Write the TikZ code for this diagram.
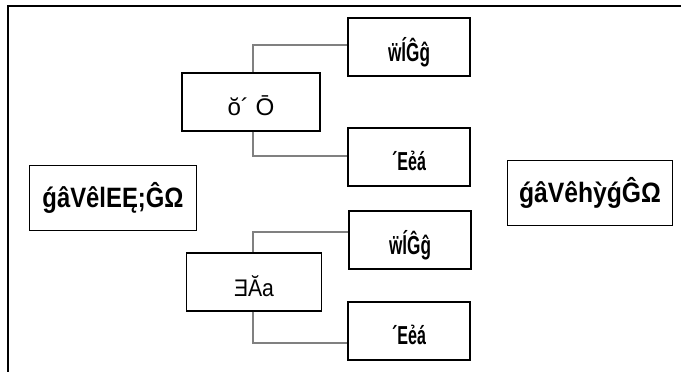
\documentclass[tikz,border=0pt]{standalone}
\usepackage{fontspec}
\setmainfont{Liberation Sans}
\usepackage{graphicx}
\newcommand{\fitw}[2]{\resizebox{#1}{\height}{#2}}
\begin{document}
\begin{tikzpicture}[x=1pt,y=-1pt,
  box/.style={draw=black, line width=1.3pt, fill=white, inner sep=0pt},
  link/.style={draw=black!50, line width=1.8pt},
  lbl/.style={font=\fontsize{24}{26}\selectfont},
  hlbl/.style={font=\fontsize{26}{28}\selectfont\bfseries},
  biglbl/.style={font=\fontsize{28}{30}\selectfont\bfseries}]
\useasboundingbox (0,0) rectangle (681,372);
% outer frame (top and left edges visible)
\draw[line width=1.2pt] (8,390) -- (8,6) -- (700,6);
% boxes
\node[box, minimum width=122pt, minimum height=58pt] (b1) at (409,47) {};
\node[hlbl] at ([yshift=-5pt]b1.center) {\fitw{42pt}{ẅĺĜĝ}};
\node[box, minimum width=138pt, minimum height=58pt] (p1) at (251,102) {};
\node[lbl] at ([yshift=-4pt]p1.center) {\fitw{47pt}{ŏ´ Ō}};
\node[box, minimum width=122pt, minimum height=58pt] (b2) at (409,157) {};
\node[hlbl] at ([yshift=-4pt]b2.center) {\fitw{34pt}{´Eẻá}};
\node[box, minimum width=167pt, minimum height=65pt] (l) at (113,198) {};
\node[biglbl] at (l) {\fitw{141pt}{ǵâVêlEĘ;ĜΩ}};
\node[box, minimum width=165pt, minimum height=65pt] (r) at (590,193) {};
\node[biglbl] at (r) {\fitw{142pt}{ǵâVêhỳǵĜΩ}};
\node[box, minimum width=122pt, minimum height=58pt] (b3) at (410,240) {};
\node[hlbl] at ([yshift=-5pt]b3.center) {\fitw{42pt}{ẅĺĜĝ}};
\node[box, minimum width=135pt, minimum height=58pt] (p2) at (254,282) {};
\node[lbl] at ([yshift=-4pt]p2.center) {\fitw{40pt}{ƎĂa}};
\node[box, minimum width=122pt, minimum height=58pt] (b4) at (409,331) {};
\node[hlbl] at ([yshift=-4pt]b4.center) {\fitw{34pt}{´Eẻá}};
% connectors
\coordinate (c1) at (253,45);
\coordinate (c2) at (253,156);
\coordinate (c3) at (253,232);
\coordinate (c4) at (253,343);
\draw[link] (p1.north -| c1) -- (c1) -- (c1 -| b1.west);
\draw[link] (p1.south -| c2) -- (c2) -- (c2 -| b2.west);
\draw[link] (p2.north -| c3) -- (c3) -- (c3 -| b3.west);
\draw[link] (p2.south -| c4) -- (c4) -- (c4 -| b4.west);
\end{tikzpicture}
\end{document}
